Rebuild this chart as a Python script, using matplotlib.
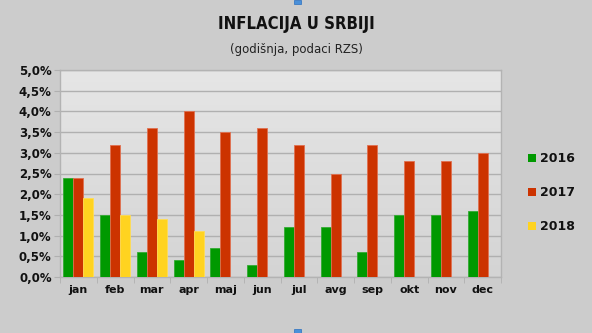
import numpy as np
import matplotlib.pyplot as plt
from matplotlib.colors import LinearSegmentedColormap
from matplotlib.patches import Rectangle
from matplotlib import font_manager as fm

months = ["jan", "feb", "mar", "apr", "maj", "jun", "jul", "avg", "sep", "okt", "nov", "dec"]
infl_2016 = [2.4, 1.5, 0.6, 0.4, 0.7, 0.3, 1.2, 1.2, 0.6, 1.5, 1.5, 1.6]
infl_2017 = [2.4, 3.2, 3.6, 4.0, 3.5, 3.6, 3.2, 2.5, 3.2, 2.8, 2.8, 3.0]
infl_2018 = [1.9, 1.5, 1.4, 1.1]
years = ["2016", "2017", "2018"]
yticks = [0.0, 0.5, 1.0, 1.5, 2.0, 2.5, 3.0, 3.5, 4.0, 4.5, 5.0]

colors = ["#009900", "#cc3300", "#ffd320"]
edges = ["#33aa33", "#e07050", "#ffdd55"]

fig = plt.figure(figsize=(5.92, 3.33), dpi=100)
fig.patch.set_facecolor("#cccccc")
W, H = 592, 333
ax = fig.add_axes([60 / W, 1 - 277 / H, 441 / W, 207 / H])

# gradient plot background
grad = LinearSegmentedColormap.from_list("bg", ["#d4d4d4", "#e6e6e6"])
ax.imshow(np.linspace(0, 1, 256).reshape(-1, 1), cmap=grad, aspect="auto",
          extent=[-0.5, 11.5, 0, 5.0], origin="lower", zorder=0)

x = np.arange(len(months))
bw = 0.27
for i, (vals, c, e) in enumerate(zip([infl_2016, infl_2017, infl_2018], colors, edges)):
    xs = x[:len(vals)] + (i - 1) * bw
    ax.bar(xs, vals, width=bw, color=c, edgecolor=e, linewidth=0.6, zorder=3, label=years[i])

ax.set_xlim(-0.5, 11.5)
ax.set_ylim(0, 5.0)
ax.set_yticks(yticks)
ax.set_yticklabels([f"{v:.1f}%".replace(".", ",") for v in yticks],
                   fontsize=8.5, fontweight="bold", color="#111111")
ax.yaxis.grid(True, color="#b0b0b0", linewidth=1.0, zorder=1)
ax.set_axisbelow(True)

ax.set_xticks(x)
ax.set_xticklabels(months, fontsize=8, fontweight="bold", color="#111111")
ax.set_xticks(np.arange(-0.5, 12, 1), minor=True)
ax.tick_params(axis="x", which="major", length=0, pad=6)
ax.tick_params(axis="x", which="minor", length=4, color="#b0b0b0")
ax.tick_params(axis="y", length=4, color="#b0b0b0", pad=2)

for s in ["top", "right", "left", "bottom"]:
    ax.spines[s].set_color("#b3b3b3")
    ax.spines[s].set_linewidth(1.0)

# condensed bold face for the title, if available
title_font = None
for f in fm.fontManager.ttflist:
    if "DejaVuSansCondensed-Bold.ttf" in f.fname:
        title_font = fm.FontProperties(fname=f.fname, size=12)
        break
if title_font is None:
    title_font = fm.FontProperties(family="DejaVu Sans", weight="bold", size=11)

fig.text(0.5, 1 - 24 / H, "INFLACIJA U SRBIJI", ha="center", va="center",
         fontproperties=title_font, color="#111111")
fig.text(0.5, 1 - 49 / H, "(godišnja, podaci RZS)", ha="center", va="center",
         fontsize=8.5, color="#222222")

# legend
for i, (yr, c) in enumerate(zip(years, colors)):
    yc = 158 + i * 34
    fig.patches.append(Rectangle(((528) / W, 1 - (yc + 4) / H), 8 / W, 8 / H,
                                 transform=fig.transFigure, facecolor=c, edgecolor="none"))
    fig.text(540 / W, 1 - yc / H, yr, ha="left", va="center",
             fontsize=9, fontweight="bold", color="#111111")

# selection handles
for yy in (0, 329):
    fig.patches.append(Rectangle((294 / W, 1 - (yy + 4) / H), 7 / W, 4 / H,
                                 transform=fig.transFigure, facecolor="#4a90d9",
                                 edgecolor="#2a70c0", linewidth=0.5))

fig.savefig("out.png", dpi=100, facecolor=fig.get_facecolor())
